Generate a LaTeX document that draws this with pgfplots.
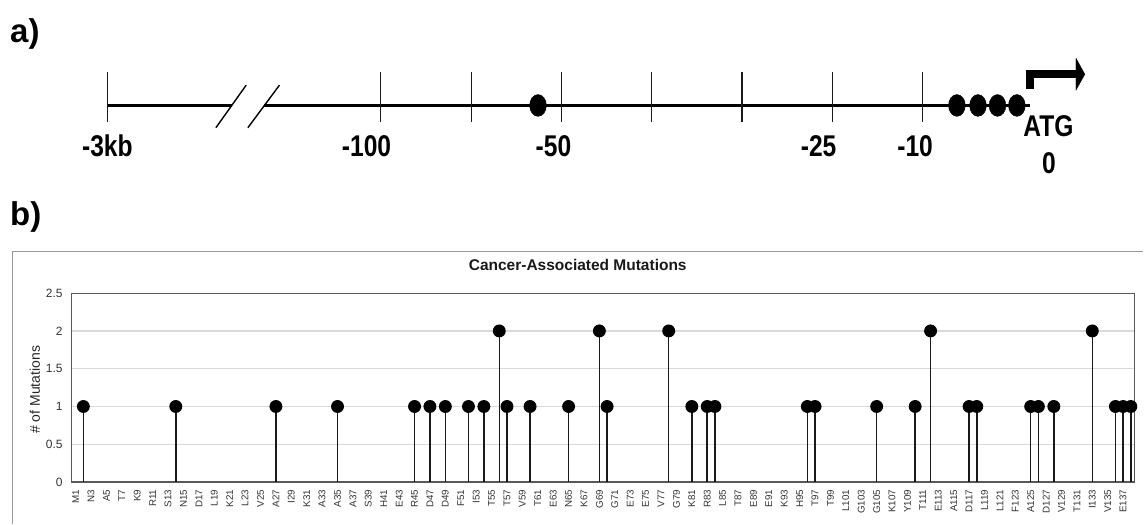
\documentclass[border=0pt]{standalone}
\usepackage{fontspec}
\setmainfont{Liberation Sans}
\newfontfamily\narrowfont{Liberation Sans}[FakeStretch=0.82]
\usepackage{pgfplots}
\usepackage{pgfplotstable}
\pgfplotsset{compat=1.18}

\pgfplotstableread{
res count
2 1
14 1
27 1
35 1
45 1
47 1
49 1
52 1
54 1
56 2
57 1
60 1
65 1
69 2
70 1
78 2
81 1
83 1
84 1
96 1
97 1
105 1
110 1
112 2
117 1
118 1
125 1
126 1
128 1
133 2
136 1
137 1
138 1
}\mutdata

\begin{document}
\begin{tikzpicture}
% ---------- overlay axis in pixel coordinates (part a and frame) ----------
\begin{axis}[at={(0pt,0pt)}, anchor=south west, width=1144pt, height=524pt,
  scale only axis, xmin=0, xmax=1144, ymin=0, ymax=524, y dir=reverse,
  hide axis, clip=false]
% chart area border of part b
\addplot[color=black!40, line width=1.2pt] coordinates {(12.7,524) (12.7,251.5) (1144,251.5)};
% promoter line
\addplot[black, line width=2.6pt] coordinates {(107.4,105.5) (231.9,105.5)};
\addplot[black, line width=2.6pt] coordinates {(264.5,105.5) (1031,105.5)};
\pgfplotsinvokeforeach{107.4,380.4,471.5,562,652,742.2,833,923}{
  \addplot[black!90, line width=1.4pt] coordinates {(#1,72) (#1,122)};
}
% break marks
\addplot[black, line width=1.4pt] coordinates {(216,127.8) (246.3,85.2)};
\addplot[black, line width=1.4pt] coordinates {(248,127.8) (279.6,85.2)};
% sites
\addplot[only marks, mark=*, mark size=8.4pt, mark options={yscale=1.3, draw=black, fill=black}]
  coordinates {(538.3,105.5) (957.4,105.5) (978.5,105.5) (998,105.5) (1017.4,105.5)};
% transcription start arrow
\addplot[black, line width=8pt, line join=miter, line cap=butt] coordinates {(1030.7,89) (1030.7,74.3) (1077,74.3)};
\addplot[black, fill=black, line width=0.1pt] coordinates {(1076.5,58) (1085.5,74.3) (1076.5,90.5) (1076.5,58)};
% labels
\node[anchor=base, font=\narrowfont\bfseries\fontsize{30}{34}\selectfont] at (axis cs:107.4,157) {-3kb};
\node[anchor=base, font=\narrowfont\bfseries\fontsize{30}{34}\selectfont] at (axis cs:366.7,157) {-100};
\node[anchor=base, font=\narrowfont\bfseries\fontsize{30}{34}\selectfont] at (axis cs:553.7,157) {-50};
\node[anchor=base, font=\narrowfont\bfseries\fontsize{30}{34}\selectfont] at (axis cs:819,157) {-25};
\node[anchor=base, font=\narrowfont\bfseries\fontsize{30}{34}\selectfont] at (axis cs:915.6,157) {-10};
\node[anchor=base, font=\narrowfont\bfseries\fontsize{30}{34}\selectfont] at (axis cs:1049,137) {ATG};
\node[anchor=base, font=\narrowfont\bfseries\fontsize{30}{34}\selectfont] at (axis cs:1049.6,174) {0};
\node[anchor=base west, inner sep=0pt, font=\bfseries\fontsize{33}{36}\selectfont] at (axis cs:10,42.5) {a)};
\node[anchor=base west, inner sep=0pt, font=\bfseries\fontsize{33}{36}\selectfont] at (axis cs:10,225.5) {b)};
\end{axis}

% ---------- part b: lollipop chart ----------
\begin{axis}[at={(71.85pt,41.7pt)}, anchor=south west, width=1063.4pt, height=189pt,
  scale only axis,
  xmin=0.5, xmax=138.5, ymin=0, ymax=2.5,
  ytick={0,0.5,1,1.5,2,2.5}, yticklabels={0,0.5,1,1.5,2,2.5},
  xtick={1,3,...,137},
  xticklabels={M1,N3,A5,T7,K9,R11,S13,N15,D17,L19,K21,L23,V25,A27,I29,K31,A33,A35,A37,S39,H41,E43,R45,D47,D49,F51,I53,T55,T57,V59,T61,E63,N65,K67,G69,G71,E73,E75,V77,G79,K81,R83,L85,T87,E89,E91,K93,H95,T97,T99,L101,G103,G105,K107,Y109,T111,E113,A115,D117,L119,L121,F123,A125,D127,V129,T131,I133,V135,E137},
  major tick length=0pt,
  ymajorgrids, grid style={color=black!15, line width=1.2pt},
  axis line style={color=black!65, line width=1.2pt},
  x tick label style={yshift=-7.5pt, rotate=90, anchor=east, inner sep=0pt, font=\fontsize{9.8}{11}\selectfont, text=black!80},
  y tick label style={xshift=-9pt, anchor=east, inner sep=0pt, font=\fontsize{12}{14}\selectfont, text=black!80},
  title={Cancer-Associated Mutations},
  title style={at={(axis description cs:0.476,1.118)}, anchor=center, font=\bfseries\fontsize{15.5}{18}\selectfont, text=black!90},
  ylabel={\# of Mutations},
  ylabel style={at={(axis description cs:-0.0347,0.488)}, anchor=center, font=\fontsize{14}{16}\selectfont, text=black!85},
]
\addplot[ycomb, black!90, line width=1.5pt, mark=*, mark size=5.7pt, mark options={black, fill=black}]
  table[x=res, y=count] {\mutdata};
\end{axis}
\path[use as bounding box] (0pt,0pt) rectangle (1144pt,524pt);
\end{tikzpicture}
\end{document}
